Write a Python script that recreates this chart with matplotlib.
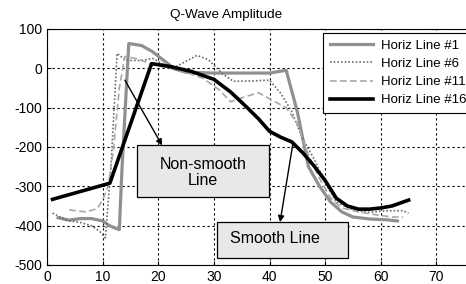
import matplotlib
matplotlib.use("Agg")
import matplotlib.pyplot as plt
from matplotlib.patches import Rectangle

plt.rcParams['font.family'] = ['Liberation Sans', 'DejaVu Sans']
plt.rcParams['axes.unicode_minus'] = False

# Horiz Line #1 (thick gray)
x1 = [2, 4, 6, 8, 10, 11, 12, 13, 13.5, 14.7, 17, 19, 21, 23, 25, 30, 35, 40, 43, 45, 47, 49, 51, 53, 55, 58, 61, 63]
y1 = [-380, -386, -382, -382, -388, -398, -405, -410, -250, 63, 58, 42, 20, -2, -10, -12, -12, -12, -5, -110, -250, -300, -340, -365, -378, -383, -385, -388]

# Horiz Line #6 (dotted)
x6 = [1, 3.5, 6, 8, 9.5, 10.5, 11.5, 12.6, 14, 15, 17, 19, 21, 23, 25, 27, 29, 31.5, 33.5, 37, 40, 42, 44, 46, 48, 50, 52, 55, 58, 61, 64, 65]
y6 = [-368, -386, -392, -400, -415, -431, -250, 38, 22, 20, 20, 25, 10, 3, 18, 33, 22, -13, -33, -32, -30, -63, -110, -180, -230, -290, -340, -360, -366, -362, -362, -368]

# Horiz Line #11 (dashed)
x11 = [4, 7, 9, 10, 11, 12, 13, 14, 16, 19, 22, 25, 28, 31, 33, 35, 38, 41, 43, 45, 47, 49, 51, 53, 56, 59, 62, 64]
y11 = [-360, -365, -357, -335, -300, -200, -50, 30, 25, 10, 0, -10, -25, -55, -85, -75, -62, -85, -100, -140, -220, -280, -330, -355, -365, -372, -378, -378]

# Horiz Line #16 (thick black)
x16 = [1, 11.3, 18.8, 22, 26, 30, 33, 36, 38, 40, 42, 44, 46, 48, 50, 52, 54, 56, 58, 60, 62, 65]
y16 = [-333, -292, 12, 5, -8, -28, -60, -100, -128, -160, -175, -187, -215, -248, -285, -330, -350, -358, -358, -355, -350, -335]

fig = plt.figure(figsize=(4.66, 2.84), dpi=100)
ax = fig.add_axes([47 / 466, 19 / 284, 445 / 466, 236 / 284])

ax.plot(x1, y1, color='#909090', lw=2.3, label='Horiz Line #1', zorder=3)
ax.plot(x6, y6, color='#6e6e58', lw=1.2, ls=(0, (1, 1.2)), label='Horiz Line #6', zorder=3)
ax.plot(x11, y11, color='#a8a8a8', lw=1.2, ls=(0, (4, 2)), label='Horiz Line #11', zorder=3)
ax.plot(x16, y16, color='black', lw=2.6, label='Horiz Line #16', zorder=4)

ax.set_xlim(0, 80)
ax.set_ylim(-500, 100)
ax.set_xticks(range(0, 71, 10))
ax.set_yticks(range(-500, 101, 100))
ax.tick_params(direction='in', length=3, labelsize=10, colors='black')
ax.grid(True, color='black', ls=(0, (2, 2.5)), lw=0.8)
for s in ax.spines.values():
    s.set_linewidth(0.8)

fig.text(226 / 466, 1 - 15 / 284, 'Q-Wave Amplitude', ha='center', va='center', fontsize=9.7)

leg = ax.legend(loc='upper left', bbox_to_anchor=(323 / 466, 1 - 33 / 284),
                bbox_transform=fig.transFigure, borderaxespad=0, fontsize=9.5,
                fancybox=False, framealpha=1, edgecolor='black',
                handlelength=3.3, handletextpad=0.6, labelspacing=0.45, borderpad=0.5)
leg.get_frame().set_linewidth(0.8)
leg.set_zorder(6)

# annotation boxes
ax.add_patch(Rectangle((16.2, -328), 23.7, 132, fc='#e8e8e8', ec='black', lw=0.9, zorder=5))
ax.text(28, -264, 'Non-smooth\nLine', ha='center', va='center', fontsize=11.5, zorder=6, linespacing=1.1)
ax.add_patch(Rectangle((30.6, -482), 23.5, 91, fc='#e8e8e8', ec='black', lw=0.9, zorder=5))
ax.text(41, -432, 'Smooth Line', ha='center', va='center', fontsize=11.5, zorder=6)

arrow = dict(arrowstyle='-|>', color='black', lw=1, mutation_scale=9, shrinkA=0, shrinkB=0)
ax.annotate('', xy=(20.7, -196), xytext=(14, -30), arrowprops=arrow, zorder=6)
ax.annotate('', xy=(41.9, -391), xytext=(44.2, -192), arrowprops=arrow, zorder=6)

fig.savefig('out.png', dpi=100)
